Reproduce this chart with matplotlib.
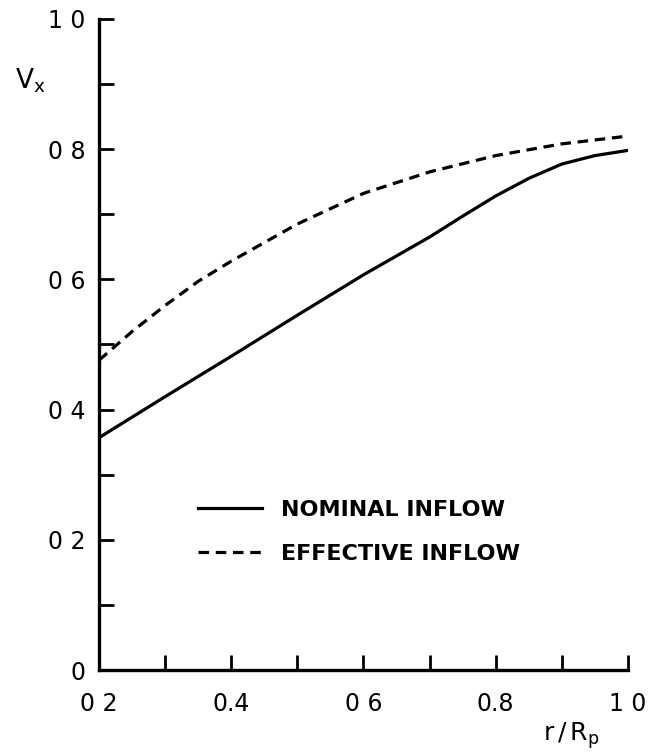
import numpy as np
import matplotlib
matplotlib.use("Agg")
import matplotlib.pyplot as plt
from matplotlib.ticker import MultipleLocator, FixedLocator

# radial position r/Rp
r_nom = [0.2, 0.3, 0.4, 0.5, 0.6, 0.7, 0.75, 0.8, 0.85, 0.9, 0.95, 1.0]
v_nom = [0.357, 0.420, 0.482, 0.545, 0.607, 0.665, 0.697, 0.728, 0.755, 0.777, 0.790, 0.798]

r_eff = [0.2, 0.25, 0.3, 0.35, 0.4, 0.5, 0.6, 0.7, 0.8, 0.9, 1.0]
v_eff = [0.476, 0.520, 0.560, 0.597, 0.628, 0.685, 0.732, 0.765, 0.790, 0.808, 0.820]

xticks = [0.2, 0.4, 0.6, 0.8, 1.0]
xlabels = ["0 2", "0.4", "0 6", "0.8", "1 0"]
yticks = [0.0, 0.2, 0.4, 0.6, 0.8, 1.0]
ylabels = ["0", "0 2", "0 4", "0 6", "0 8", "1 0"]

fig = plt.figure(figsize=(6.52, 7.53), dpi=100)
ax = fig.add_axes([0.152, 0.110, 0.811, 0.865])

ax.plot(r_nom, v_nom, color="black", lw=2.3, label="NOMINAL INFLOW")
ax.plot(r_eff, v_eff, color="black", lw=2.3, dashes=(3.3, 2.1), label="EFFECTIVE INFLOW")

ax.set_xlim(0.2, 1.0)
ax.set_ylim(0.0, 1.0)
for s in ["top", "right"]:
    ax.spines[s].set_visible(False)
for s in ["left", "bottom"]:
    ax.spines[s].set_linewidth(2.4)

ax.xaxis.set_major_locator(FixedLocator(xticks))
ax.yaxis.set_major_locator(FixedLocator(yticks))
ax.xaxis.set_minor_locator(MultipleLocator(0.1))
ax.yaxis.set_minor_locator(MultipleLocator(0.1))
ax.set_xticklabels(xlabels)
ax.set_yticklabels(ylabels)
ax.tick_params(which="both", direction="in", length=11, width=2)
ax.tick_params(axis="x", pad=16, labelsize=17)
ax.tick_params(axis="y", pad=10, labelsize=17)

ax.text(-0.16, 0.905, r"$\mathregular{V_x}$", transform=ax.transAxes,
        fontsize=19, ha="left", va="center")
ax.text(0.84, -0.10, r"$\mathregular{r\,/\,R_p}$", transform=ax.transAxes,
        fontsize=18, ha="left", va="center")

leg = ax.legend(loc="upper left", bbox_to_anchor=(0.187, 0.261), frameon=False,
                borderaxespad=0, borderpad=0,
                handlelength=2.9, handletextpad=0.85, labelspacing=1.05,
                prop={"size": 16, "weight": "bold"})

fig.savefig("out.png", dpi=100)
